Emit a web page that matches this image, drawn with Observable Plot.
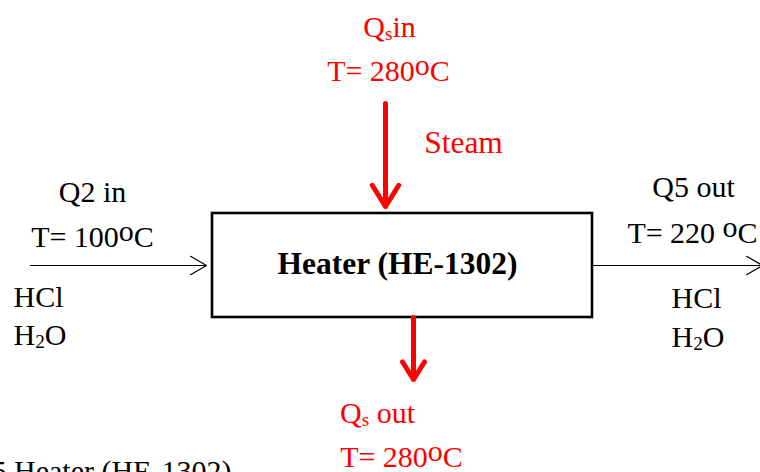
<!DOCTYPE html>
<html><head><meta charset="utf-8">
<script src="https://cdn.jsdelivr.net/npm/d3@7"></script>
<script src="https://cdn.jsdelivr.net/npm/@observablehq/plot@0.6"></script>
<style>
html,body{margin:0;padding:0;background:#fff}
#chart svg{display:block;overflow:hidden}
</style>
</head><body><div id="chart"></div>
<script>
// Labels ("_x" = subscript, "^x" = superscript)
const labels = ["Q_sin","T= 280^oC","Steam","Q2 in","T= 100^oC","HCl","H_2O","Q5 out","T= 220 ^oC","HCl","H_2O","Q_s out","T= 280^oC","5 Heater (HE-1302)"];
const labelGroup = ["steam","steam","steam","process","process","process","process","process","process","process","process","steam","steam","caption"];
const labelAlign = ["middle","middle","middle","middle","middle","start","start","middle","middle","start","start","middle","middle","start"];
const labelX = [389,388,463,92,92,13,13,693,692,671,671,377,401,-9];
const labelY = [27,71,142,192,237,297,335,187,233,298,337,413,457,471];

// Unit
const unitName = ["Heater (HE-1302)"];
const unitX1 = [212], unitX2 = [592], unitY1 = [213], unitY2 = [317];

// Streams
const streamName = ["Q2 in","Q5 out","Qs in","Qs out"];
const streamGroup = ["process","process","steam","steam"];
const streamX1 = [30,592,385,413];
const streamY1 = [265,265,103,317];
const streamX2 = [206,762,385,413];
const streamY2 = [265,265,206,379];

const textData = labels.map((t,i)=>({t, g:labelGroup[i], a:labelAlign[i], x:labelX[i], y:labelY[i]}));
const units = unitName.map((n,i)=>({n, x1:unitX1[i], x2:unitX2[i], y1:unitY1[i], y2:unitY2[i]}));
const streams = streamName.map((n,i)=>({n, g:streamGroup[i], x1:streamX1[i], y1:streamY1[i], x2:streamX2[i], y2:streamY2[i]}));
const steamStreams = streams.filter(d=>d.g==="steam");
const processStreams = streams.filter(d=>d.g==="process");

const FONT = "'Liberation Serif', 'Times New Roman', serif";
const size = d => d.t === "Steam" ? 31.5 : 30;

const chart = Plot.plot({
  width: 760, height: 472,
  margin: 0,
  style: {fontFamily: FONT, background: "#fff"},
  x: {domain: [0,760], axis: null},
  y: {domain: [0,472], reverse: true, axis: null},
  color: {domain: ["steam","process","caption"], range: ["#ff0000","#000000","#000000"]},
  marks: [
    Plot.rect(units, {x1:"x1", x2:"x2", y1:"y1", y2:"y2", fill:"none", stroke:"#000", strokeWidth:2.6}),
    Plot.text(units, {x: d=>(d.x1+d.x2)/2, y: d=>(d.y1+d.y2)/2, text:"n", dx:-5, dy:-2, fontSize:31.5, fontWeight:"bold", fill:"#000"}),
    Plot.arrow(processStreams, {x1:"x1", y1:"y1", x2:"x2", y2:"y2", stroke:"#000", strokeWidth:1.2, headLength:23, headAngle:60}),
    Plot.arrow(steamStreams, {x1:"x1", y1:"y1", x2:"x2", y2:"y2", stroke:"#ff0000", strokeWidth:5, headLength:7.5, headAngle:64, strokeLinecap:"round"}),
    Plot.text(textData.filter(d=>d.a==="middle"), {x:"x", y:"y", text:"t", fill:d=>d.g, textAnchor:"middle", fontSize:size}),
    Plot.text(textData.filter(d=>d.a==="start"), {x:"x", y:"y", text:"t", fill:d=>d.g, textAnchor:"start", fontSize:size})
  ]
});
document.getElementById("chart").appendChild(chart);

// Render "_x" as subscript and "^x" as superscript
const NS = "http://www.w3.org/2000/svg";
chart.querySelectorAll("text").forEach(el => {
  const s = el.textContent;
  if (!/[_^]/.test(s)) return;
  const fs = parseFloat(getComputedStyle(el).fontSize) || 30;
  el.textContent = "";
  let buf = "", reset = 0, first = true;
  const flush = () => {
    if (!buf) return;
    if (first && !reset) { el.appendChild(document.createTextNode(buf)); }
    else { const t = document.createElementNS(NS,"tspan"); t.textContent = buf; if (reset) t.setAttribute("dy", reset); el.appendChild(t); reset = 0; }
    first = false; buf = "";
  };
  for (let i=0;i<s.length;i++){
    const c = s[i];
    if ((c==="_"||c==="^") && i+1<s.length){
      flush();
      const t = document.createElementNS(NS,"tspan");
      t.textContent = s[i+1];
      let sz, shift;
      if (c==="_") { sz = fs*0.64; shift = fs*0.1; }
      else { sz = fs*1.0; shift = -fs*0.21; }
      t.setAttribute("font-size", sz);
      t.setAttribute("dy", shift + (reset||0));
      el.appendChild(t);
      reset = -shift; first = false;
      i++;
    } else buf += c;
  }
  flush();
});
</script>
</body></html>
